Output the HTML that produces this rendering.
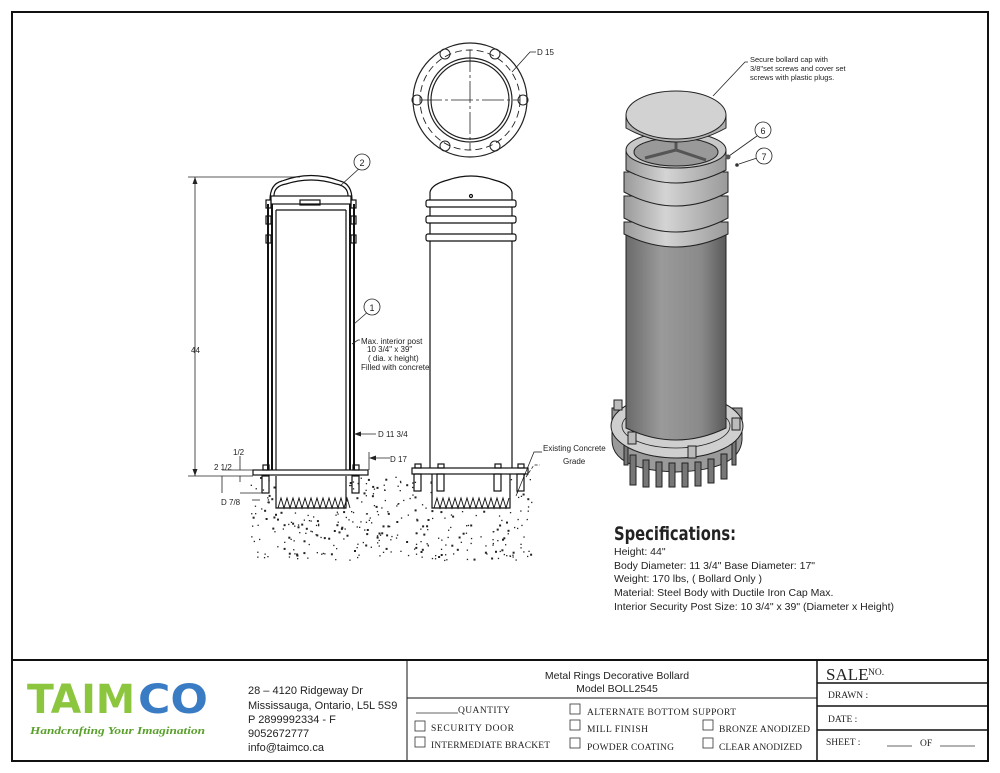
<!DOCTYPE html>
<html><head><meta charset="utf-8"><style>
html,body{margin:0;padding:0;background:#fff;width:1000px;height:773px;overflow:hidden}
svg{display:block}
text{font-family:"Liberation Sans",sans-serif;fill:#222}
.m{font-family:"Liberation Serif",serif;font-size:9.5px;fill:#222}
</style></head><body>
<svg width="1000" height="773" viewBox="0 0 1000 773" xmlns="http://www.w3.org/2000/svg">
<defs>
<linearGradient id="bg" x1="0" x2="1"><stop offset="0" stop-color="#6a6a6a"/><stop offset="0.35" stop-color="#9a9a9a"/><stop offset="0.75" stop-color="#8a8a8a"/><stop offset="1" stop-color="#5a5a5a"/></linearGradient>
<linearGradient id="rg" x1="0" x2="1"><stop offset="0" stop-color="#9a9a9a"/><stop offset="0.4" stop-color="#d4d4d4"/><stop offset="1" stop-color="#9a9a9a"/></linearGradient>
</defs>
<rect x="12" y="12" width="976" height="749" fill="none" stroke="#111" stroke-width="2"/>
<line x1="12" y1="660" x2="988" y2="660" stroke="#111" stroke-width="2"/>
<line x1="407" y1="660" x2="407" y2="761" stroke="#111" stroke-width="1"/>
<line x1="817" y1="660" x2="817" y2="761" stroke="#111" stroke-width="1.5"/>
<line x1="407" y1="698" x2="817" y2="698" stroke="#111" stroke-width="1"/>
<line x1="817" y1="683" x2="988" y2="683" stroke="#111" stroke-width="1.5"/>
<line x1="817" y1="706" x2="988" y2="706" stroke="#111" stroke-width="1.5"/>
<line x1="817" y1="730" x2="988" y2="730" stroke="#111" stroke-width="1.5"/>

<text x="27" y="713" font-size="40" font-weight="bold" style="fill:#8cc63f;font-family:'DejaVu Sans',sans-serif" textLength="108" lengthAdjust="spacingAndGlyphs">TAIM</text>
<text x="138" y="713" font-size="40" font-weight="bold" style="fill:#3a7cc4;font-family:'DejaVu Sans',sans-serif" textLength="70" lengthAdjust="spacingAndGlyphs">CO</text>
<text x="30" y="734" font-size="11" font-style="italic" font-weight="bold" style="fill:#5aa02c;font-family:'Liberation Serif',serif" textLength="175" lengthAdjust="spacingAndGlyphs">Handcrafting Your Imagination</text>
<g font-size="11">
<text x="248" y="694">28 – 4120 Ridgeway Dr</text>
<text x="248" y="709">Mississauga, Ontario, L5L 5S9</text>
<text x="248" y="723">P 2899992334 - F</text>
<text x="248" y="737">9052672777</text>
<text x="248" y="751">info@taimco.ca</text>
</g>
<g font-size="10.5" text-anchor="middle">
<text x="617" y="679">Metal Rings Decorative Bollard</text>
<text x="617" y="692">Model BOLL2545</text>
</g>
<g fill="none" stroke="#333" stroke-width="0.8">
<rect x="415" y="721" width="10" height="10"/><rect x="415" y="737" width="10" height="10"/>
<rect x="570" y="704" width="10" height="10"/><rect x="570" y="720" width="10" height="10"/><rect x="570" y="738" width="10" height="10"/>
<rect x="703" y="720" width="10" height="10"/><rect x="703" y="738" width="10" height="10"/>
<line x1="416" y1="713" x2="458" y2="713"/>
<line x1="887" y1="746" x2="912" y2="746"/><line x1="940" y1="746" x2="975" y2="746"/>
</g>
<text class="m" x="458" y="713" textLength="52">QUANTITY</text>
<text class="m" x="431" y="731" textLength="83">SECURITY DOOR</text>
<text class="m" x="431" y="748" textLength="119">INTERMEDIATE BRACKET</text>
<text class="m" x="587" y="715" textLength="149">ALTERNATE BOTTOM SUPPORT</text>
<text class="m" x="587" y="732" textLength="61">MILL FINISH</text>
<text class="m" x="587" y="750" textLength="87">POWDER COATING</text>
<text class="m" x="719" y="732" textLength="91">BRONZE ANODIZED</text>
<text class="m" x="719" y="750" textLength="83">CLEAR ANODIZED</text>
<text x="826" y="680" style="font-family:'Liberation Serif',serif;font-size:17px">SALE</text>
<text x="868" y="675" class="m" font-size="8">NO.</text>
<text class="m" x="828" y="698">DRAWN :</text>
<text class="m" x="828" y="722">DATE :</text>
<text class="m" x="826" y="745">SHEET :</text>
<text class="m" x="920" y="746">OF</text>

<g fill="none" stroke="#222" stroke-width="1.2">
<circle cx="470" cy="100" r="57"/>
<circle cx="470" cy="100" r="50" stroke-dasharray="7 4" stroke-width="0.9"/>
<circle cx="470" cy="100" r="42"/>
<circle cx="470" cy="100" r="39"/>
<line x1="420" y1="100" x2="520" y2="100" stroke-dasharray="22 3 3 3" stroke-width="0.8"/>
<line x1="470" y1="50" x2="470" y2="150" stroke-dasharray="22 3 3 3" stroke-width="0.8"/>
<g stroke-width="1">
<circle cx="445" cy="54" r="5"/><circle cx="495" cy="54" r="5"/>
<circle cx="417" cy="100" r="5"/><circle cx="523" cy="100" r="5"/>
<circle cx="445" cy="146" r="5"/><circle cx="495" cy="146" r="5"/>
</g>
<polyline points="512,72 530,52 536,52" stroke-width="0.8"/>
</g>
<text x="537" y="55" font-size="8">D 15</text>

<g fill="none" stroke="#111" stroke-width="1.2">
<path d="M270,200 Q270,184 282,181 Q311,170 340,181 Q352,184 352,200"/>
<path d="M274,196 Q274,186 286,184 Q311,176 336,184 Q348,186 348,196"/>
<rect x="271" y="196" width="80" height="8"/>
<rect x="300" y="200" width="20" height="5"/>
<rect x="266" y="200" width="5" height="8"/><rect x="351" y="200" width="5" height="8"/>
<rect x="266" y="216" width="5" height="8"/><rect x="351" y="216" width="5" height="8"/>
<rect x="266" y="235" width="5" height="8"/><rect x="351" y="235" width="5" height="8"/>
<line x1="268" y1="204" x2="268" y2="470" stroke-width="2"/>
<line x1="272" y1="204" x2="272" y2="470" stroke-width="2"/>
<line x1="276" y1="210" x2="276" y2="470"/>
<line x1="346" y1="210" x2="346" y2="470"/>
<line x1="350" y1="204" x2="350" y2="470" stroke-width="2"/>
<line x1="354" y1="204" x2="354" y2="470" stroke-width="2"/>
<line x1="276" y1="210" x2="346" y2="210"/>
<rect x="253" y="470" width="115" height="5"/>
<rect x="262" y="476" width="7" height="17"/><rect x="352" y="476" width="7" height="17"/>
<rect x="263" y="465" width="6" height="5"/><rect x="353" y="465" width="6" height="5"/>
<path d="M276,476 L276,508 L346,508 L346,476"/>
<path d="M278,508 l3,-10 l3,10 l3,-10 l3,10 l3,-10 l3,10 l3,-10 l3,10 l3,-10 l3,10 l3,-10 l3,10 l3,-10 l3,10 l3,-10 l3,10 l3,-10 l3,10 l3,-10 l3,10 l3,-10 l3,10 l3,-10 l3,10" stroke-width="0.9"/>
</g>
<g stroke="#222" stroke-width="0.8" fill="none">
<line x1="188" y1="177" x2="300" y2="177"/>
<line x1="188" y1="476" x2="253" y2="476"/>
<line x1="195" y1="177" x2="195" y2="476"/>
<line x1="240" y1="493" x2="262" y2="493"/>
<line x1="222" y1="470" x2="253" y2="470"/>
<line x1="240" y1="456" x2="240" y2="470"/><line x1="240" y1="476" x2="240" y2="482"/>
<line x1="222" y1="476" x2="222" y2="493"/>
<line x1="252" y1="500" x2="260" y2="500"/>
<polyline points="340,186 362,166"/>
<polyline points="354,324 370,310"/>
<polyline points="352,344 358,340 360,340"/>
<line x1="354" y1="434" x2="376" y2="434"/>
<line x1="370" y1="458" x2="390" y2="458"/><line x1="369" y1="452" x2="369" y2="470"/>
</g>
<g fill="#222"><path d="M195,177 l-2.5,7 h5z"/><path d="M195,476 l-2.5,-7 h5z"/><path d="M354,434 l7,-2.5 v5z"/><path d="M369,458 l7,-2.5 v5z"/></g>
<circle cx="362" cy="162" r="8" fill="#fff" stroke="#222" stroke-width="0.8"/>
<text x="362" y="166" font-size="9" text-anchor="middle">2</text>
<circle cx="372" cy="307" r="8" fill="#fff" stroke="#222" stroke-width="0.8"/>
<text x="372" y="311" font-size="9" text-anchor="middle">1</text>
<g font-size="8">
<text x="191" y="353">44</text>
<text x="361" y="344">Max. interior post</text>
<text x="367" y="352">10 3/4" x 39"</text>
<text x="368" y="361">( dia. x height)</text>
<text x="361" y="370">Filled with concrete</text>
<text x="378" y="437">D 11 3/4</text>
<text x="390" y="462">D  17</text>
<text x="233" y="455">1/2</text>
<text x="214" y="470">2 1/2</text>
<text x="221" y="505">D 7/8</text>
<text x="543" y="451">Existing Concrete</text>
<text x="563" y="464">Grade</text>
</g>

<g fill="none" stroke="#111" stroke-width="1.2">
<path d="M430,200 L430,192 Q432,184 448,180 Q471,172 494,180 Q510,184 512,192 L512,200"/>
<circle cx="471" cy="196" r="1.5"/>
<rect x="426" y="200" width="90" height="7" rx="2"/>
<rect x="426" y="216" width="90" height="7" rx="2"/>
<rect x="426" y="234" width="90" height="7" rx="2"/>
<line x1="430" y1="207" x2="430" y2="216"/><line x1="512" y1="207" x2="512" y2="216"/>
<line x1="430" y1="223" x2="430" y2="234"/><line x1="512" y1="223" x2="512" y2="234"/>
<line x1="430" y1="241" x2="430" y2="468"/><line x1="512" y1="241" x2="512" y2="468"/>
<rect x="412" y="468" width="116" height="6"/>
<rect x="414" y="474" width="7" height="17"/><rect x="437" y="474" width="7" height="17"/>
<rect x="494" y="474" width="7" height="17"/><rect x="517" y="474" width="7" height="17"/>
<rect x="415" y="464" width="6" height="4"/><rect x="438" y="464" width="6" height="4"/><rect x="495" y="464" width="6" height="4"/><rect x="518" y="464" width="6" height="4"/>
<path d="M432,474 L432,508 L510,508 L510,474"/>
<path d="M434,508 l3,-10 l3,10 l3,-10 l3,10 l3,-10 l3,10 l3,-10 l3,10 l3,-10 l3,10 l3,-10 l3,10 l3,-10 l3,10 l3,-10 l3,10 l3,-10 l3,10 l3,-10 l3,10 l3,-10 l3,10 l3,-10 l3,10 l3,-10" stroke-width="0.9"/>
<polyline points="516,496 534,452 542,452" stroke-width="0.7"/>
<polyline points="526,477 534,465 540,465" stroke-width="0.7" stroke-dasharray="3 2"/>
</g>
<g id="dots" fill="#222"></g>

<g stroke="#222" stroke-width="1">
<path d="M612,408 L612,440 Q612,470 676,472 Q740,470 742,440 L742,408 Z" fill="#9a9a9a"/>
<g fill="#777">
<rect x="630" y="455" width="6" height="30"/><rect x="643" y="460" width="6" height="27"/><rect x="656" y="462" width="6" height="25"/><rect x="669" y="463" width="6" height="24"/><rect x="682" y="463" width="6" height="24"/><rect x="695" y="462" width="6" height="24"/><rect x="708" y="459" width="6" height="24"/><rect x="721" y="454" width="6" height="25"/>
<rect x="732" y="440" width="4" height="25"/><rect x="624" y="440" width="4" height="25"/>
</g>
<ellipse cx="677" cy="426" rx="66" ry="32" fill="#cfcfcf"/>
<ellipse cx="676" cy="426" rx="54" ry="22" fill="none" stroke-width="0.8"/>
<path d="M626,235 L626,428 Q676,452 726,428 L726,235 Z" fill="url(#bg)"/>
<path d="M624,222 L624,234 Q676,260 728,234 L728,222 Z" fill="url(#rg)"/>
<path d="M624,196 L624,218 Q676,246 728,218 L728,196 Z" fill="url(#rg)"/>
<path d="M624,172 L624,192 Q676,220 728,192 L728,172 Z" fill="url(#rg)"/>
<path d="M626,150 L626,170 Q676,196 726,170 L726,150 Z" fill="url(#rg)"/>
<ellipse cx="676" cy="150" rx="50" ry="18" fill="#c8c8c8"/>
<ellipse cx="676" cy="152" rx="42" ry="14" fill="#999"/>
<path d="M645,158 L676,150 L706,160 M676,150 L676,138" stroke="#555" stroke-width="3" fill="none"/>
<path d="M626,115 L626,128 Q676,156 726,128 L726,115 Z" fill="#b0b0b0"/>
<ellipse cx="676" cy="115" rx="50" ry="24" fill="#d2d2d2"/>
<g fill="#bbb"><rect x="614" y="400" width="8" height="10"/><rect x="628" y="432" width="8" height="12"/><rect x="688" y="446" width="8" height="12"/><rect x="732" y="418" width="8" height="12"/></g>
</g>
<g fill="none" stroke="#222" stroke-width="0.8">
<polyline points="713,96 745,62 748,62"/>
<line x1="729" y1="156" x2="757" y2="136"/>
<line x1="739" y1="164" x2="757" y2="158"/>
</g>
<circle cx="728" cy="157" r="2.5" fill="#555"/><circle cx="737" cy="165" r="1.8" fill="#333"/>
<circle cx="763" cy="130" r="8" fill="#fff" stroke="#222" stroke-width="0.8"/><text x="763" y="134" font-size="9" text-anchor="middle">6</text>
<circle cx="764" cy="156" r="8" fill="#fff" stroke="#222" stroke-width="0.8"/><text x="764" y="160" font-size="9" text-anchor="middle">7</text>
<g font-size="7.5">
<text x="750" y="62">Secure bollard cap with</text>
<text x="750" y="71">3/8"set screws and cover set</text>
<text x="750" y="80">screws with plastic plugs.</text>
</g>

<text x="614" y="540" font-size="19" font-weight="bold" style="font-family:'DejaVu Sans',sans-serif" textLength="122" lengthAdjust="spacingAndGlyphs">Specifications:</text>
<g font-size="10.5">
<text x="614" y="555">Height: 44"</text>
<text x="614" y="569">Body Diameter: 11 3/4"  Base Diameter: 17"</text>
<text x="614" y="582">Weight: 170 lbs, ( Bollard Only )</text>
<text x="614" y="596">Material: Steel Body with Ductile Iron Cap  Max.</text>
<text x="614" y="610">Interior Security Post Size: 10 3/4" x 39" (Diameter x Height)</text>
</g>
</svg>
<script>
(function(){var g=document.getElementById('dots');var s=12345;function r(){s=(s*16807)%2147483647;return s/2147483647;}
var h='';for(var i=0;i<420;i++){var x=250+r()*282,y=476+r()*84;
if(y<510&&((x>276&&x<346)||(x>432&&x<510)))continue;
var w=r()<0.3?2:1.3;h+='<rect x="'+x.toFixed(1)+'" y="'+y.toFixed(1)+'" width="'+w+'" height="'+w+'"/>';}
g.innerHTML=h;})();
</script>
</body></html>
